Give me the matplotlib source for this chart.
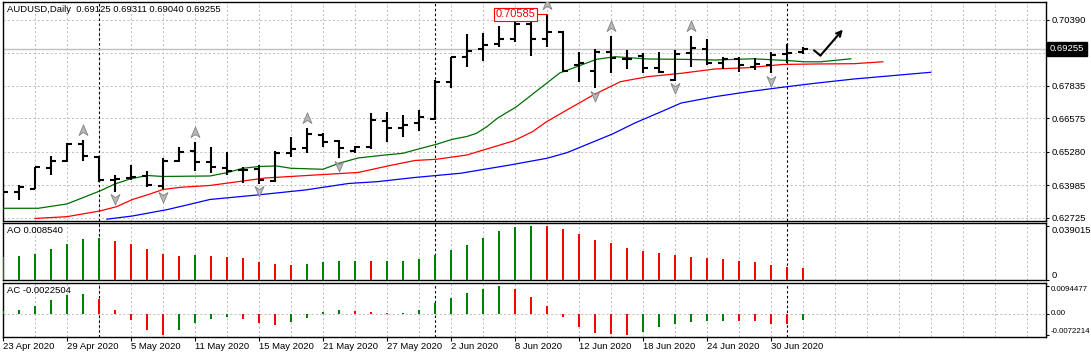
import numpy as np
import matplotlib.pyplot as plt
from matplotlib.path import Path
from matplotlib.transforms import blended_transform_factory

plt.rcParams['font.family'] = ['Liberation Sans', 'DejaVu Sans']
plt.rcParams['font.size'] = 6.8

# AUDUSD daily bars, 23 Apr - 2 Jul 2020
opens = [0.63421, 0.63742, 0.63846, 0.64668, 0.64927, 0.65583, 0.65070, 0.64193, 0.64259, 0.64348,
         0.63962, 0.64927, 0.65313, 0.64888, 0.64668, 0.64579, 0.64606, 0.64155, 0.65247, 0.65417,
         0.65931, 0.65699, 0.65313, 0.65479, 0.66483, 0.66213, 0.66382, 0.66537, 0.67989, 0.68954,
         0.69240, 0.69433, 0.69649, 0.70216, 0.69626, 0.69919, 0.68633, 0.68402, 0.69147, 0.68865,
         0.68992, 0.68506, 0.68054, 0.69085, 0.69240, 0.68722, 0.68853, 0.68545, 0.68633, 0.69058,
         0.69125]
highs = [0.64066, 0.64000, 0.64707, 0.65120, 0.65610, 0.65738, 0.65093, 0.64386, 0.64772, 0.64541,
         0.65054, 0.65479, 0.65649, 0.65467, 0.65263, 0.64707, 0.64772, 0.65313, 0.65842, 0.66213,
         0.65996, 0.65738, 0.65506, 0.66792, 0.66807, 0.66703, 0.66896, 0.68054, 0.68954, 0.69819,
         0.69857, 0.70139, 0.70294, 0.70436, 0.70585, 0.69946, 0.69124, 0.69240, 0.69753, 0.69213,
         0.69085, 0.69124, 0.69213, 0.69753, 0.69626, 0.68931, 0.68931, 0.68892, 0.69147, 0.69444,
         0.69311]
lows = [0.63151, 0.63421, 0.63827, 0.64386, 0.64877, 0.64927, 0.64128, 0.63742, 0.64193, 0.63935,
        0.63834, 0.64900, 0.64552, 0.64444, 0.64386, 0.64089, 0.64039, 0.64128, 0.65093, 0.65247,
        0.65456, 0.65031, 0.65224, 0.65379, 0.65672, 0.65865, 0.66097, 0.66510, 0.67734, 0.68545,
        0.68799, 0.69317, 0.69533, 0.68981, 0.69317, 0.68375, 0.67989, 0.67734, 0.68336, 0.68479,
        0.68336, 0.68336, 0.68027, 0.68568, 0.68633, 0.68467, 0.68375, 0.68440, 0.68313, 0.68699,
        0.69040]
closes = [0.63742, 0.63911, 0.64684, 0.64927, 0.65583, 0.65120, 0.64193, 0.64232, 0.64297, 0.64000,
          0.64927, 0.65286, 0.64900, 0.64707, 0.64552, 0.64560, 0.64193, 0.65247, 0.65379, 0.65958,
          0.65672, 0.65417, 0.65456, 0.66510, 0.66213, 0.66317, 0.66637, 0.67977, 0.68931, 0.69186,
          0.69394, 0.69649, 0.70216, 0.69626, 0.69919, 0.68402, 0.68699, 0.69147, 0.68904, 0.68853,
          0.68529, 0.68375, 0.69046, 0.69278, 0.68699, 0.68853, 0.68633, 0.68660, 0.69019, 0.69108,
          0.69255]

# Alligator lines (bar index, price), shifted forward past the last bar
lips_x = [0, 2.2, 4, 6.06, 7, 7.94, 9, 10, 12.94, 14, 15, 16, 17.1, 18, 20, 21, 22.2, 23.9, 25, 25.75,
          27.1, 28.1, 29, 29.6, 30.25, 30.9, 32.1, 34, 34.8, 35.9, 37.1, 38.25, 40.3, 42.4, 44.5, 46.9,
          49, 50.1, 51.1, 53]
lips_y = [0.63100, 0.63100, 0.63267, 0.63769, 0.64039, 0.64232, 0.64367, 0.64328, 0.64348, 0.64475,
          0.64645, 0.64714, 0.64734, 0.64645, 0.64606, 0.64838, 0.65043, 0.65158, 0.65224, 0.65352,
          0.65572, 0.65765, 0.65873, 0.65996, 0.66251, 0.66575, 0.67023, 0.67938, 0.68325, 0.68575,
          0.68853, 0.68954, 0.68865, 0.68853, 0.68826, 0.68873, 0.68807, 0.68757, 0.68757, 0.68873]
teeth_x = [2, 4, 6.06, 7.1, 8.1, 9.2, 10, 11.1, 12.94, 16.4, 20.6, 22.2, 24.2, 25.75, 27.1, 29, 31.9,
           33.1, 34, 35.25, 36.9, 38.6, 40.3, 42.4, 44.5, 46.6, 48.7, 50.75, 53.2, 55]
teeth_y = [0.62707, 0.62776, 0.62996, 0.63162, 0.63440, 0.63653, 0.63826, 0.63911, 0.63981, 0.64270,
           0.64425, 0.64483, 0.64753, 0.64946, 0.64993, 0.65158, 0.65699, 0.66058, 0.66450, 0.66896,
           0.67475, 0.67989, 0.68182, 0.68313, 0.68479, 0.68529, 0.68653, 0.68672, 0.68684, 0.68757]
jaw_x = [6.5, 8.1, 10.25, 11.5, 12.94, 15.9, 18.9, 21.6, 23.4, 25.75, 28.6, 31.7, 34, 35.25, 38.1,
         39.5, 41.25, 42.4, 44.5, 46.6, 48.7, 50.75, 53.2, 58]
jaw_y = [0.62680, 0.62803, 0.63047, 0.63228, 0.63440, 0.63614, 0.63807, 0.64058, 0.64128, 0.64290,
         0.64452, 0.64772, 0.65031, 0.65247, 0.65969, 0.66394, 0.66857, 0.67166, 0.67409, 0.67603,
         0.67772, 0.67927, 0.68093, 0.68352]

up_fractals = [5, 12, 19, 34, 38, 43]
down_fractals = [7, 10, 16, 21, 37, 42, 48]

ao = [0.01623, 0.01703, 0.01849, 0.02235, 0.02613, 0.02912, 0.02992, 0.02839, 0.02613, 0.02235,
      0.01849, 0.01703, 0.01776, 0.01703, 0.01623, 0.01550, 0.01245, 0.01095, 0.01080, 0.01110,
      0.01245, 0.01318, 0.01330, 0.01320, 0.01325, 0.01335, 0.01470, 0.01776, 0.02155, 0.02533,
      0.02992, 0.03523, 0.03822, 0.039015, 0.03872, 0.03647, 0.03341, 0.02890, 0.02657, 0.02278,
      0.02053, 0.01900, 0.01820, 0.01667, 0.01594, 0.01521, 0.01368, 0.01288, 0.01063, 0.00910,
      0.00854]
ac = [0.00093, 0.00141, 0.00262, 0.00466, 0.00659, 0.00683, 0.00503, 0.00141, -0.00217, -0.00576,
      -0.00720, -0.00576, -0.00324, -0.00183, -0.00110, -0.00183, -0.00324, -0.00397, -0.00290, -0.00134,
      0.00069, 0.00141, 0.00107, 0.00069, 0.00034, 0.00041, 0.00141, 0.00359, 0.00538, 0.00717,
      0.00862, 0.0094477, 0.00862, 0.00572, 0.00262, -0.00097, -0.00455, -0.00672, -0.00690, -0.0072214,
      -0.00638, -0.00455, -0.00348, -0.00276, -0.00241, -0.00235, -0.00245, -0.00250, -0.00348, -0.00355,
      -0.0022504]

label_bars = [0, 4, 8, 12, 16, 20, 24, 28, 32, 36, 40, 44, 48]
tick_labels = ['23 Apr 2020', '29 Apr 2020', '5 May 2020', '11 May 2020', '15 May 2020', '21 May 2020',
               '27 May 2020', '2 Jun 2020', '8 Jun 2020', '12 Jun 2020', '18 Jun 2020', '24 Jun 2020',
               '30 Jun 2020']
month_starts = [6, 27, 49]
price_ticks = [0.62725, 0.63985, 0.65280, 0.66575, 0.67835, 0.69110, 0.70390]
price_labels = ['0.62725', '0.63985', '0.65280', '0.66575', '0.67835', '', '0.70390']
bid = 0.69255
top_price = 0.70585
# hand drawn arrow on the right of the last bar
arrow_x = [50.7, 51.1, 52.5]
arrow_y = [0.69197, 0.69000, 0.70000]

# figure / panels, laid out in pixels
W_PX, H_PX = 1091, 353
fig = plt.figure(figsize=(W_PX / 100, H_PX / 100), dpi=100)


def box(top, bottom, left=2.5, right=1046):
    return [left / W_PX, 1 - bottom / H_PX, (right - left) / W_PX, (bottom - top) / H_PX]


ax = fig.add_axes(box(2, 221))
ax_ao = fig.add_axes(box(223, 280))
ax_ac = fig.add_axes(box(282.5, 336.5))

GRID = dict(color='#c0c0c0', linestyle=(0, (2.2, 2.2)), linewidth=0.7)
for a in (ax, ax_ao, ax_ac):
    a.set_xlim(-0.03, 65.2)
    a.set_xticks(np.arange(0, 65, 2), minor=True)
    a.set_xticks(label_bars)
    a.grid(True, axis='x', which='both', **GRID)
    a.set_axisbelow(True)
    a.tick_params(axis='x', which='both', length=0, labelbottom=False)
    a.yaxis.tick_right()
    a.tick_params(axis='y', length=2.5, pad=1.5, labelsize=6.8)
    for s in a.spines.values():
        s.set_linewidth(1.0)
    for b in month_starts:
        a.axvline(b, color='black', linestyle=(0, (2.2, 2.2)), linewidth=0.8, zorder=1.5)

# ---- main price panel ----
x = np.arange(len(opens))
ax.set_ylim(0.62609, 0.71066)
ax.set_yticks(price_ticks, labels=price_labels)
ax.grid(True, axis='y', **GRID)
ax.axhline(bid, color='#c0c0c0', linewidth=1.0, zorder=2)

ax.plot(jaw_x, jaw_y, color='#0000ff', linewidth=0.9, zorder=3)
ax.plot(teeth_x, teeth_y, color='#ff0000', linewidth=0.9, zorder=3)
ax.plot(lips_x, lips_y, color='#006e00', linewidth=0.9, zorder=3)

ax.vlines(x, lows, highs, color='black', linewidth=1.5, zorder=4)
ax.hlines(opens, x - 0.3, x, color='black', linewidth=1.5, capstyle='butt', zorder=4)
ax.hlines(closes, x, x + 0.3, color='black', linewidth=1.5, capstyle='butt', zorder=4)

up_mark = Path([(0, 1), (0.8, -0.9), (0, -0.35), (-0.8, -0.9), (0, 1)],
               [Path.MOVETO, Path.LINETO, Path.LINETO, Path.LINETO, Path.CLOSEPOLY])
dn_mark = Path([(0, -1), (0.8, 0.9), (0, 0.35), (-0.8, 0.9), (0, -1)],
               [Path.MOVETO, Path.LINETO, Path.LINETO, Path.LINETO, Path.CLOSEPOLY])
ax.plot(up_fractals, [highs[i] + 0.0039 for i in up_fractals], linestyle='none', marker=up_mark,
        markersize=8, markerfacecolor='#b8b8b8', markeredgecolor='#808080', markeredgewidth=0.6, zorder=5)
ax.plot(down_fractals, [lows[i] - 0.0029 for i in down_fractals], linestyle='none', marker=dn_mark,
        markersize=8, markerfacecolor='#b8b8b8', markeredgecolor='#808080', markeredgewidth=0.6, zorder=5)

# highest price label
ax.text(32.06, top_price, f'{top_price:.5f}', color='red', fontsize=8, ha='center', va='center',
        bbox=dict(boxstyle='square,pad=0.15', facecolor='white', edgecolor='red', linewidth=0.8), zorder=6)
ax.plot([33.4, highs.index(top_price)], [top_price, top_price], color='red', linewidth=0.8, zorder=6)

# arrow
ax.plot(arrow_x[:2], arrow_y[:2], color='black', linewidth=1.5, solid_capstyle='round', zorder=6)
ax.annotate('', xy=(arrow_x[2], arrow_y[2]), xytext=(arrow_x[1], arrow_y[1]),
            arrowprops=dict(arrowstyle='->', linewidth=1.5, color='black', shrinkA=0, shrinkB=0,
                            mutation_scale=9), zorder=6)

title = f'AUDUSD,Daily  {opens[-1]:.5f} {highs[-1]:.5f} {lows[-1]:.5f} {closes[-1]:.5f}'
ax.text(0.0043, 0.9635, title, transform=ax.transAxes, ha='left', va='center')

bt = blended_transform_factory(ax.transAxes, ax.transData)
ax.text(1.0035, bid, f'{bid:.5f}', transform=bt, color='white', ha='left', va='center', fontsize=6.8,
        bbox=dict(boxstyle='square,pad=0.3', facecolor='black', edgecolor='black'), clip_on=False, zorder=7)

# ---- AO panel ----
ao_colors = ['#008000'] + ['#008000' if b > a else '#ff0000' for a, b in zip(ao[:-1], ao[1:])]
ax_ao.bar(x, ao, width=0.14, color=ao_colors, linewidth=0, zorder=3)
ax_ao.set_ylim(-0.00036, 0.04113)
ax_ao.set_yticks([max(ao), 0], labels=[f'{max(ao):.6f}', '0'])
for lab, va in zip(ax_ao.get_yticklabels(), ['top', 'bottom']):
    lab.set_va(va)
ax_ao.text(0.0043, 0.86, f'AO {ao[-1]:.6f}', transform=ax_ao.transAxes, ha='left', va='center')

# ---- AC panel ----
ac_colors = ['#008000'] + ['#008000' if b > a else '#ff0000' for a, b in zip(ac[:-1], ac[1:])]
ax_ac.bar(x, ac, width=0.14, color=ac_colors, linewidth=0, zorder=3)
ax_ac.set_ylim(-0.00783, 0.01079)
ax_ac.axhline(0, zorder=1, **GRID)
ax_ac.set_yticks([max(ac), 0, min(ac)], labels=[f'{max(ac):.7f}', '0.00', f'{min(ac):.7f}'])
ax_ac.tick_params(axis='y', labelsize=5.7, pad=1)
for lab, va in zip(ax_ac.get_yticklabels(), ['top', 'center', 'bottom']):
    lab.set_va(va)
ax_ac.text(0.0043, 0.861, f'AC {ac[-1]:.7f}', transform=ax_ac.transAxes, ha='left', va='center')

ax_ac.set_xticklabels(tick_labels, ha='left')
ax_ac.tick_params(axis='x', which='major', length=3, pad=1, labelbottom=True, labelsize=6.8)

fig.savefig('out.png', dpi=100)
